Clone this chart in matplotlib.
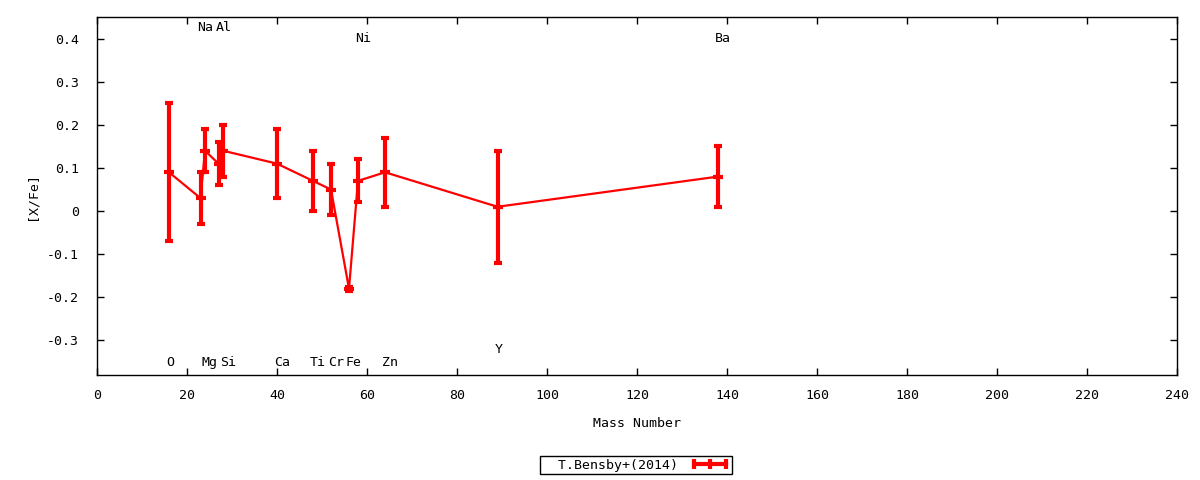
import matplotlib
matplotlib.use("Agg")
import matplotlib.pyplot as plt
from matplotlib.lines import Line2D

# ---------------------------
# Dados
# ---------------------------
elements = ["O", "Na", "Mg", "Al", "Si", "Ca", "Ti", "Cr", "Fe", "Ni", "Zn", "Y", "Ba"]
mass     = [16, 23, 24, 27, 28, 40, 48, 52, 56, 58, 64, 89, 138]
x_fe     = [0.09, 0.03, 0.14, 0.11, 0.14, 0.11, 0.07, 0.05, -0.18, 0.07, 0.09, 0.01, 0.08]
x_fe_err = [0.16, 0.06, 0.05, 0.05, 0.06, 0.08, 0.07, 0.06, 0.005, 0.05, 0.08, 0.13, 0.07]
label_y  = [-0.35, 0.425, -0.35, 0.425, -0.35, -0.35, -0.35, -0.35, -0.35, 0.40, -0.35, -0.32, 0.40]

x_ticks = list(range(0, 241, 20))
y_ticks = [-0.3, -0.2, -0.1, 0.0, 0.1, 0.2, 0.3, 0.4]
y_tick_labels = ["-0.3", "-0.2", "-0.1", "0", "0.1", "0.2", "0.3", "0.4"]

plt.rcParams["font.family"] = ["DejaVu Sans Mono", "DejaVu Sans"]
plt.rcParams["font.size"] = 9.5

fig = plt.figure(figsize=(12, 4.8), dpi=100)
ax = fig.add_axes([97/1200, 1 - 375/480, (1177 - 97)/1200, (375 - 17)/480])

ax.errorbar(mass, x_fe, yerr=x_fe_err, color="red", lw=1.6,
            elinewidth=3, capsize=3, capthick=3,
            marker="_", ms=6.5, mew=3)

for el, m, ly in zip(elements, mass, label_y):
    ax.text(m - 0.7, ly, el, ha="left", va="center", fontsize=9.5)

ax.set_xlim(0, 240)
ax.set_ylim(-0.38, 0.45)
ax.set_xticks(x_ticks)
ax.set_yticks(y_ticks)
ax.set_yticklabels(y_tick_labels)
ax.tick_params(axis="x", direction="in", top=True, length=5, width=1, pad=10)
ax.tick_params(axis="y", direction="in", right=True, length=5, width=1, pad=13)
for s in ax.spines.values():
    s.set_linewidth(1)

ax.set_xlabel("Mass Number", labelpad=11)
ax.set_ylabel("[X/Fe]", labelpad=6)

# amostra da legenda no estilo gnuplot (linha com traços verticais)
proxy = Line2D([], [], color="red", lw=3, marker="|", ms=7, mew=3)
fig.legend(handles=[proxy], labels=["  T.Bensby+(2014)"], loc="center",
           bbox_to_anchor=(636/1200, 1 - 465/480), numpoints=3,
           frameon=True, fancybox=False, edgecolor="black", markerfirst=False,
           borderpad=0.2, handlelength=3.0, handletextpad=0.9, framealpha=1)

plt.savefig("out.png", dpi=100)
plt.close()
